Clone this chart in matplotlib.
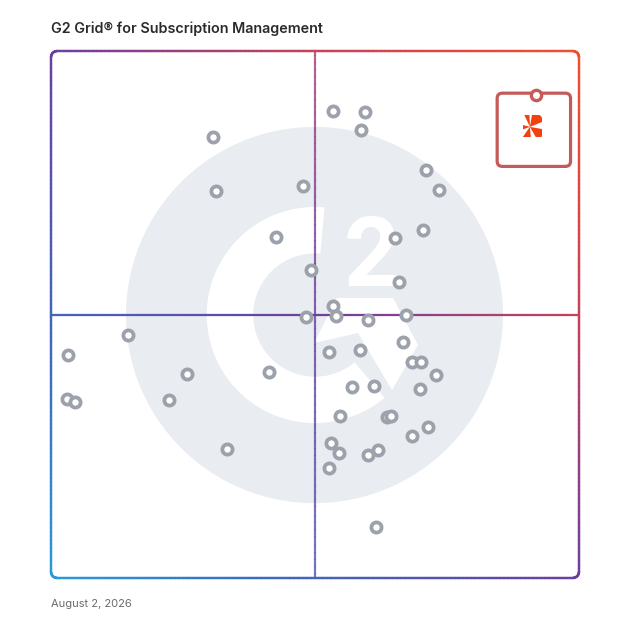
import numpy as np
import matplotlib
matplotlib.use('Agg')
import matplotlib.pyplot as plt
from matplotlib.collections import LineCollection
from matplotlib.colors import LinearSegmentedColormap
from matplotlib.patches import Circle, Wedge, Polygon, FancyBboxPatch, Rectangle

# market presence (x) and satisfaction (y), 0-100 grid scale
market_presence = [53.5, 59.5, 58.7, 30.6, 71.0, 73.4, 31.3, 47.8, 42.7, 65.1,
                   70.5, 49.2, 65.9, 53.5, 48.3, 53.9, 60.0, 67.3, 52.7, 58.5,
                   66.6, 68.4, 70.0, 73.0, 69.9, 57.1, 61.2, 54.7, 63.6, 64.4,
                   71.4, 68.3, 53.0, 54.5, 60.0, 62.0, 52.7, 61.6, 14.6, 3.2,
                   3.0, 4.5, 25.7, 22.3, 41.2, 33.3]
satisfaction = [88.6, 88.4, 85.1, 83.6, 77.4, 73.7, 73.5, 74.4, 64.7, 64.6,
                66.0, 58.4, 56.2, 51.6, 49.5, 49.8, 49.0, 50.0, 42.9, 43.2,
                44.8, 40.9, 41.0, 38.6, 35.9, 36.2, 36.4, 30.8, 30.6, 30.7,
                28.7, 26.9, 25.6, 23.7, 23.3, 24.2, 20.8, 9.7, 46.1, 42.4,
                34.0, 33.4, 38.7, 33.8, 39.1, 24.5]
highlight_x = 91.9
highlight_y = 91.65

title = "G2 Grid\u00ae for Subscription Management"
date_label = "August 2, 2026"

grad = LinearSegmentedColormap.from_list(
    'g2', [(0, '#2a9ad8'), (0.2, '#3a6cc0'), (0.5, '#6b3fa0'),
           (0.75, '#c8405a'), (1.0, '#f2502c')])


def grad_line(ax, xs, ys, lw, alpha=1.0, tfun=None):
    pts = np.column_stack([xs, ys])
    segs = np.stack([pts[:-1], pts[1:]], axis=1)
    mid = (pts[:-1] + pts[1:]) / 2
    t = (mid[:, 0] + mid[:, 1]) / 200 if tfun is None else tfun(mid)
    lc = LineCollection(segs, colors=grad(t), linewidths=lw, alpha=alpha,
                        capstyle='round', clip_on=False, zorder=3)
    ax.add_collection(lc)


def rounded_rect(x0, y0, x1, y1, r):
    parts = []
    corners = [(x1 - r, y0 + r, -90, 0), (x1 - r, y1 - r, 0, 90),
               (x0 + r, y1 - r, 90, 180), (x0 + r, y0 + r, 180, 270)]
    for cx, cy, a0, a1 in corners:
        a = np.radians(np.linspace(a0, a1, 20))
        parts.append(np.column_stack([cx + r * np.cos(a), cy + r * np.sin(a)]))
    pts = np.vstack(parts + [parts[0][:1]])
    out = []
    for p, q in zip(pts[:-1], pts[1:]):
        k = max(2, int(np.hypot(*(q - p)) * 4))
        out.append(np.linspace(p, q, k, endpoint=False))
    out.append(pts[-1:])
    out = np.vstack(out)
    return out[:, 0], out[:, 1]


fig = plt.figure(figsize=(6.28, 6.28), dpi=100)
ax = fig.add_axes([51 / 628, 1 - 578 / 628, 528 / 628, 527 / 628])
ax.set_xlim(0, 100)
ax.set_ylim(0, 100)
ax.axis('off')

# G2 watermark
ax.add_patch(Circle((49.9, 49.9), 35.7, color='#e9ecf0', lw=0, zorder=0))
ax.add_patch(Wedge((50.0, 49.9), 20.5, 85, 310, width=8.8, color='white', lw=0, zorder=1))
chev_px = [(337, 298), (393, 298), (418, 345), (392, 390), (358, 333), (314, 343)]
ax.add_patch(Polygon([((px - 51) / 5.28, (578 - py) / 5.27) for px, py in chev_px],
                     closed=True, color='white', lw=0, zorder=1))
ax.text(60.8, 60.4, '2', fontsize=70, fontfamily='Roboto', fontweight='bold',
        color='white', ha='center', va='center', zorder=1)

# quadrant lines and border
xs = np.linspace(0, 100, 300)
grad_line(ax, xs, np.full_like(xs, 50), 1.6, alpha=0.95)
grad_line(ax, np.full_like(xs, 50), xs, 1.6, alpha=0.6,
          tfun=lambda m: 0.33 + 0.32 * m[:, 1] / 100)
bx, by = rounded_rect(0, 0, 100, 100, 1.2)
grad_line(ax, bx, by, 1.7)

# products
ax.scatter(market_presence, satisfaction, s=54, facecolor='white',
           edgecolor='#9ca1ab', linewidth=2.7, zorder=5)

# highlighted product box
box = FancyBboxPatch((84.5, 78.1), 13.9, 13.9, boxstyle='round,pad=0,rounding_size=1.0',
                     facecolor='none', edgecolor='#c45a5a', linewidth=2.3, zorder=6)
ax.add_patch(box)
ax.scatter([highlight_x], [highlight_y], s=55, facecolor='white',
           edgecolor='#c45a5a', linewidth=2.4, zorder=7)

# product logo
clip = Rectangle((89.4, 83.7), 3.6, 4.2, transform=ax.transData)
for a0, a1 in [(22, 80), (92, 115), (165, 200), (235, 275), (-60, -10)]:
    w = Wedge((90.7, 85.6), 2.9, a0, a1, color='#f2410f', lw=0, zorder=7)
    ax.add_patch(w)
    w.set_clip_path(clip)

fig.text(51 / 628, 1 - 29 / 628, title, fontsize=10.3, fontfamily='Inter',
         fontweight='semibold', color='#2a2a2a', ha='left', va='center')
fig.text(51 / 628, 1 - 604 / 628, date_label, fontsize=8, fontfamily='Inter',
         color='#6b6b6b', ha='left', va='center')

fig.savefig('out.png', dpi=100)
